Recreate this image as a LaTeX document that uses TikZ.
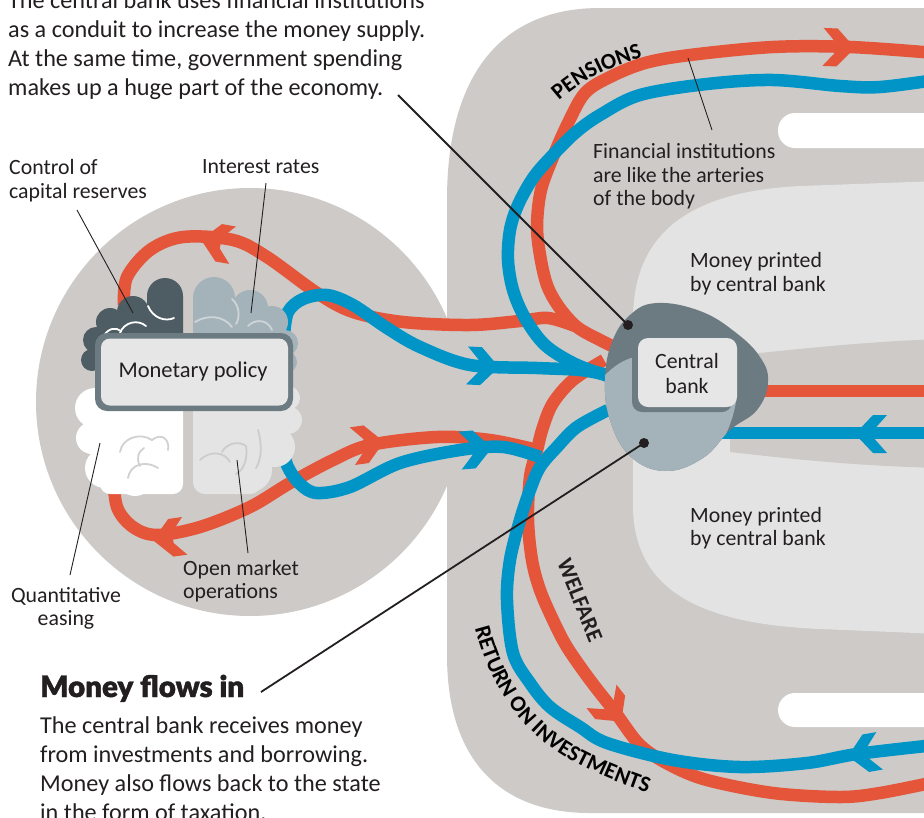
\documentclass[tikz,border=0pt]{standalone}
\usepackage{fontspec}
\setmainfont{Carlito}
\IfFontExistsTF{Lato Black}{\newfontfamily\heavyfont{Lato Black}[FakeBold=1.4]}{\newcommand\heavyfont{\bfseries}}
\usetikzlibrary{decorations.text}

\definecolor{pgray}{HTML}{CDCAC8}
\definecolor{plight}{HTML}{E3E3E3}
\definecolor{fred}{HTML}{E4553A}
\definecolor{fblue}{HTML}{0095C6}
\definecolor{slateD}{HTML}{4E5C63}
\definecolor{slateM}{HTML}{6C7B82}
\definecolor{slateL}{HTML}{A4B2B9}
\definecolor{boxfill}{HTML}{E6E6E6}
\definecolor{lobeBR}{HTML}{E4E4E4}
\definecolor{inkc}{HTML}{231F20}

\newcommand\capsfont{\bfseries\fontsize{22.5}{22.5}\selectfont}

\begin{document}
\begin{tikzpicture}[x=1pt, y=-1pt,
  redflow/.style={draw=fred, line width=12.5pt},
  blueflow/.style={draw=fblue, line width=12.5pt},
  lobeline/.style={line width=1.8pt, line cap=round},
  para/.style={font=\fontsize{24.2}{29}\selectfont, text=inkc, inner sep=0pt, anchor=base west},
  lab/.style={font=\fontsize{21.8}{24}\selectfont, text=inkc, inner sep=0pt, anchor=base west},
  labc/.style={lab, anchor=base},
  thinlead/.style={draw=inkc, line width=0.9pt},
  thicklead/.style={draw=inkc, line width=1.8pt},
  leaddot/.style={fill=inkc},
  barbtip/.pic={\fill (2,0) -- (-16,19) -- (-30,19) -- (-18,5.5) -- (-18,-5.5) -- (-30,-19) -- (-16,-19) -- cycle;}
]

\useasboundingbox (0,0) rectangle (924,817);
\clip (0,0) rectangle (924,817);
\fill[white] (0,0) rectangle (924,817);

% backdrop disc behind the brain
\fill[pgray] (250,402) circle[radius=214pt];

% large panel of the financial system
\fill[pgray] (940,8) -- (600,8) .. controls (505,8) and (447,70) .. (447,200)
  -- (447,655) .. controls (447,760) and (500,813) .. (590,813) -- (940,813) -- cycle;

% area of printed money
\fill[plight] (940,181) -- (800,186) .. controls (680,192) and (633,240) .. (633,320)
  -- (633,505) .. controls (633,590) and (700,624) .. (820,629) -- (940,634) -- cycle;

% channel leaving the central bank
\fill[pgray] (730,356) .. controls (800,349) and (860,342) .. (940,339)
  -- (940,468) .. controls (860,466) and (800,460) .. (730,452) -- cycle;

% white slots
\fill[white, rounded corners=17pt] (778,113) rectangle (980,148);
\fill[white, rounded corners=17pt] (778,693) rectangle (980,727);

% ---------- red flows ----------
\draw[redflow] plot[smooth, tension=0.55] coordinates {
  (612,346) (600,340) (577,327) (559,307) (547,285) (540,255) (537,225)
  (541,190) (553,157) (568,123) (585,93) (610,77) (645,63) (690,55)
  (773,47) (850,47) (935,53)};
\draw[redflow] plot[smooth, tension=0.55] coordinates {
  (124,305) (127,277) (150,250) (183,237) (233,240) (267,257) (317,293)
  (353,312) (403,322) (470,325) (520,321) (548,318) (575,326)};
\draw[redflow] plot[smooth, tension=0.55] coordinates {
  (604,360) (573,380) (553,403) (543,427) (537,450) (530,477) (528,520)
  (532,560) (540,590) (553,620) (567,647) (590,680) (615,712) (640,745)
  (670,765) (707,780) (773,793) (840,797) (880,793) (935,782)};
\draw[redflow] plot[smooth, tension=0.55] coordinates {
  (113,472) (117,507) (133,527) (157,535) (200,527) (250,507) (290,483)
  (333,460) (370,445) (437,437) (490,440) (537,450)};
\draw[redflow] (760,391) -- (935,391);

\pic[fred, rotate=-2] (aPen) at (853,48) {barbtip};
\pic[fred, rotate=170] (aRa) at (203,240) {barbtip};
\pic[fred, rotate=188] (aRb) at (155,540) {barbtip};
\pic[fred, rotate=8] (aRc) at (382,442) {barbtip};
\pic[fred, rotate=-52] (aWel) at (620,720) {barbtip};

% ---------- blue flows ----------
\draw[blueflow] plot[smooth, tension=0.55] coordinates {
  (608,376) (575,364) (545,345) (525,318) (513,290) (508,260) (510,230)
  (518,205) (533,178) (551,157) (575,133) (600,115) (640,95) (707,84)
  (773,80) (840,86) (880,87) (935,80)};
\draw[blueflow] plot[smooth, tension=0.55] coordinates {
  (284,336) (288,312) (303,299) (327,295) (353,305) (387,328) (420,347)
  (470,365) (537,368) (580,370) (608,375)};
\draw[blueflow] plot[smooth, tension=0.55] coordinates {
  (282,440) (287,465) (300,484) (317,493) (350,487) (400,463) (460,450)
  (503,447) (540,457)};
\draw[blueflow] plot[smooth, tension=0.55] coordinates {
  (608,410) (577,427) (557,447) (540,467) (530,490) (520,520) (510,560)
  (507,600) (513,653) (530,683) (550,707) (580,727) (607,743) (673,760)
  (740,767) (807,763) (857,754) (935,745)};
\draw[blueflow] (715,433) -- (935,433);

\pic[fblue, rotate=-3] (aB1) at (497,367) {barbtip};
\pic[fblue, rotate=5] (aB2) at (490,448) {barbtip};
\pic[fblue, rotate=180] (aBr) at (857,434) {barbtip};
\pic[fblue, rotate=190] (aRet) at (850,756) {barbtip};

% ---------- central bank ----------
\def\blobpath{plot[smooth cycle, tension=0.7] coordinates {
  (657,303) (700,311) (735,332) (760,357) (768,382) (757,410) (730,430)
  (703,458) (665,471) (630,456) (610,420) (605,380) (612,342) (630,315)}}
\fill[slateM] \blobpath;
\begin{scope}
  \clip \blobpath;
  \fill[slateL] (598,383) .. controls (612,366) and (625,358) .. (640,356)
    -- (736,402) .. controls (733,420) and (725,440) .. (712,458)
    -- (712,495) -- (590,495) -- cycle;
\end{scope}
\fill[slateM, rounded corners=10pt] (632,343) rectangle (732,412);
\node[fill=boxfill, rounded corners=10pt, minimum width=99pt, minimum height=69pt, inner sep=0pt]
  (cbbox) at (687.5,372.5) {};
\node[labc] (cb1) at (687,368) {Central};
\node[labc] (cb2) at (687,393) {bank};

% ---------- brain ----------
% upper left lobe
\fill[slateD] (165,296) circle[radius=18pt] (133,312) circle[radius=16pt]
  (110,322) circle[radius=14pt] (96,340) circle[radius=13pt] (92,360) circle[radius=11pt];
\fill[slateD] (147,296) rectangle (183,372) (100,318) rectangle (183,372);
\draw[white, lobeline] (120,333) .. controls (124,322) and (138,319) .. (146,326);
\draw[white, lobeline] (148,306) .. controls (153,318) and (165,322) .. (174,318);
\draw[white, lobeline] (104,336) .. controls (108,328) and (116,327) .. (121,331);
% upper right lobe
\fill[slateL] (214,298) circle[radius=21pt] (250,308) circle[radius=18pt]
  (272,322) circle[radius=16pt] (285,343) circle[radius=13pt] (286,362) circle[radius=11pt];
\fill[slateL] (193,298) rectangle (240,372) (193,315) rectangle (286,372);
\draw[slateL!55!white, lobeline] (195,322) .. controls (208,314) and (224,316) .. (232,327);
\draw[slateL!55!white, lobeline] (232,299) .. controls (240,306) and (240,318) .. (236,324);
\draw[slateL!55!white, lobeline] (248,326) .. controls (256,318) and (268,320) .. (272,330);
% lower left lobe
\fill[white] (95,408) circle[radius=20pt] (92,438) circle[radius=16pt]
  (105,468) circle[radius=20pt] (135,478) circle[radius=18pt];
\fill[white, rounded corners=10pt] (100,385) rectangle (183,494);
\fill[white] (100,385) rectangle (183,470);
\draw[black!18, lobeline] (120,452) .. controls (122,438) and (140,432) .. (152,440);
\draw[black!18, lobeline] (128,478) .. controls (130,464) and (146,460) .. (158,468);
\draw[black!18, lobeline] (152,440) .. controls (162,432) and (170,440) .. (168,450);
\draw[black!18, lobeline] (140,466) .. controls (136,458) and (138,452) .. (144,448);
% lower right lobe
\fill[lobeBR, rounded corners=12pt] (193,385) rectangle (262,494);
\fill[lobeBR] (250,470) circle[radius=22pt] (275,447) circle[radius=20pt]
  (288,420) circle[radius=14pt] (288,398) circle[radius=12pt];
\fill[lobeBR] (193,385) rectangle (288,455);
\draw[black!20, lobeline] (200,460) .. controls (210,450) and (225,452) .. (230,462);
\draw[black!20, lobeline] (222,452) .. controls (226,444) and (238,440) .. (246,446);
\draw[black!20, lobeline] (246,446) .. controls (248,458) and (244,470) .. (236,474);
\draw[black!20, lobeline] (258,430) .. controls (262,444) and (262,458) .. (256,468);

% monetary policy box
\fill[slateM, rounded corners=12pt] (95,333) rectangle (293,411);
\node[fill=boxfill, rounded corners=9pt, minimum width=187pt, minimum height=67pt, inner sep=0pt]
  (mpbox) at (194.5,372) {};
\node[labc, font=\fontsize{22.5}{24}\selectfont] (mptext) at (193,377) {Monetary policy};

% ---------- flow names ----------
\path[decorate, decoration={text along path, text align=left,
    text={|\capsfont|PENSIONS}}]
  (559,101) .. controls (585,78) and (618,60) .. (690,46);
\node[font=\capsfont, text=inkc, rotate=-68, inner sep=0pt] (welf) at (580,600) {WELFARE};
\path[decorate, decoration={text along path, text align=left,
    text={|\capsfont|RETURN ON INVESTMENTS}}]
  (475,628) .. controls (491,690) and (525,738) .. (580,765)
  .. controls (610,780) and (640,792) .. (720,815);

% ---------- texts ----------
\foreach \txt/\yy [count=\i] in {{The central bank uses financial institutions}/8,
    {as a conduit to increase the money supply.}/37,
    {At the same time, government spending}/66,
    {makes up a huge part of the economy.}/95}
  \node[para] (top\i) at (8,\yy) {\txt};

\node[font=\heavyfont\fontsize{29.5}{31}\selectfont, text=inkc, inner sep=0pt, anchor=base west]
  (inhead) at (40,697) {Money flows in};
\foreach \txt/\yy [count=\i] in {{The central bank receives money}/733,
    {from investments and borrowing.}/762,
    {Money also flows back to the state}/791,
    {in the form of taxation.}/820}
  \node[para] (bot\i) at (40,\yy) {\txt};

\node[lab] (ctl1) at (9,174) {Control of};
\node[lab] (ctl2) at (9,198) {capital reserves};
\node[lab] (irt) at (202,173) {Interest rates};
\node[labc] (qe1) at (66,602) {Quantitative};
\node[labc] (qe2) at (66,625) {easing};
\node[lab] (om1) at (183,575) {Open market};
\node[lab] (om2) at (183,598) {operations};
\node[lab] (fi1) at (593,158) {Financial institutions};
\node[lab] (fi2) at (593,182) {are like the arteries};
\node[lab] (fi3) at (593,205) {of the body};
\node[lab] (mp1) at (690,267) {Money printed};
\node[lab] (mp2) at (690,291) {by central bank};
\node[lab] (mq1) at (690,522) {Money printed};
\node[lab] (mq2) at (690,545) {by central bank};

% ---------- leader lines ----------
\coordinate (ctlEnd) at (133,313);
\coordinate (irtEnd) at (251,313);
\coordinate (qeEnd) at (100,443);
\coordinate (omEnd) at (237,460);
\coordinate (fiEnd) at (688,58);
\draw[thinlead] (77,210) -- (ctlEnd);
\draw[thinlead] (266,183) -- (irtEnd);
\draw[thinlead] (70,575) -- (qeEnd);
\draw[thinlead] (248,553) -- (omEnd);
\draw[thinlead] (712,130) -- (fiEnd);

\coordinate (dotUp) at (628,325);
\coordinate (dotDown) at (644,443);
\draw[thicklead] (398,95) -- (dotUp);
\draw[thicklead] (261,692) -- (dotDown);
\fill[leaddot] (dotUp) circle[radius=5pt];
\fill[leaddot] (dotDown) circle[radius=5pt];

\end{tikzpicture}
\end{document}
